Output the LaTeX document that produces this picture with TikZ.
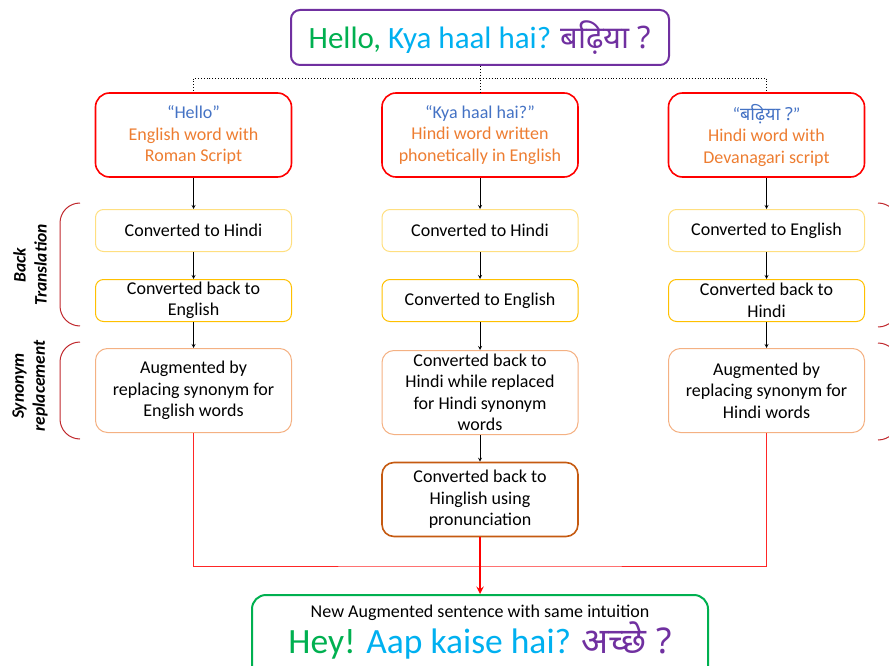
\documentclass[tikz,border=0pt]{standalone}
\usepackage{fontspec}
\setmainfont{Carlito}
\newfontfamily\deva[Script=Devanagari]{Noto Sans}
\usetikzlibrary{shapes.geometric, arrows, positioning}
\definecolor{hgreen}{HTML}{00B050}
\definecolor{hcyan}{HTML}{00B0F0}
\definecolor{hpurple}{HTML}{7030A0}
\definecolor{qblue}{HTML}{4472C4}
\definecolor{sorange}{HTML}{ED7D31}
\definecolor{lightgold}{HTML}{FFDF80}
\definecolor{gold}{HTML}{FFC000}
\definecolor{peach}{HTML}{F4B183}
\definecolor{brownish}{HTML}{C55A11}
\definecolor{bracered}{HTML}{C0282D}
\tikzstyle{headbox} = [rectangle, rounded corners=9pt, minimum width=378pt, minimum height=55pt, text centered, draw=hpurple, line width=2pt, font=\fontsize{31}{36}\selectfont]
\tikzstyle{srcbox} = [rectangle, rounded corners=14pt, minimum width=196pt, minimum height=84pt, align=center, draw=red, line width=1.6pt, text=sorange]
\tikzstyle{convbox} = [rectangle, rounded corners=8pt, minimum width=196pt, minimum height=42pt, inner ysep=2pt, align=center, draw=lightgold, line width=1pt]
\tikzstyle{backbox} = [convbox, draw=gold]
\tikzstyle{augbox} = [rectangle, rounded corners=12pt, minimum width=196pt, minimum height=84pt, inner ysep=2pt, align=center, draw=peach, line width=1pt]
\tikzstyle{hingbox} = [rectangle, rounded corners=12pt, minimum width=196pt, minimum height=74pt, align=center, draw=brownish, line width=1.6pt]
\tikzstyle{outbox} = [rectangle, rounded corners=14pt, minimum width=456pt, inner ysep=10pt, align=center, draw=hgreen, line width=2pt]
\tikzstyle{sidelabel} = [rotate=90, align=center, font=\fontsize{17.5}{21}\selectfont\bfseries\itshape]
\tikzstyle{arrow} = [->,>=stealth, line width=0.8pt]
\tikzstyle{mainarrow} = [->,>=stealth, line width=2.2pt, draw=red]
\tikzstyle{joinline} = [draw=red!85, line width=1pt]
\tikzstyle{splitline} = [dotted, line width=0.9pt]
\tikzstyle{brace} = [draw=bracered, line width=1pt, rounded corners=20pt]

\begin{document}
\begin{tikzpicture}[x=1pt, y=-1pt, node distance=70pt, every node/.style={font=\fontsize{18}{21.5}\selectfont}]

\useasboundingbox (0,0) rectangle (889,666);
\clip (0,0) rectangle (889,666);

\node (head) [headbox] at (480,37.5) {\textcolor{hgreen}{Hello,} \textcolor{hcyan}{Kya haal hai?} \textcolor{hpurple}{\deva बढ़िया ?}};

\node (src2) [srcbox, below of=head, yshift=-27.5pt] {\textcolor{qblue}{“Kya haal hai?”}\\Hindi word written\\phonetically in English};
\node (src1) [srcbox, left of=src2, xshift=-216.5pt] {\textcolor{qblue}{“Hello”}\\English word with\\Roman Script};
\node (src3) [srcbox, right of=src2, xshift=216.5pt] {\textcolor{qblue}{“{\deva बढ़िया ?}”}\\Hindi word with\\Devanagari script};

\node (conv1) [convbox, below of=src1, yshift=-25.5pt] {Converted to Hindi};
\node (back1) [backbox, below of=conv1] {Converted back to\\English};
\node (aug1) [augbox, below of=back1, yshift=-20pt] {Augmented by\\replacing synonym for\\English words};

\node (conv2) [convbox, below of=src2, yshift=-25.5pt] {Converted to Hindi};
\node (eng2) [backbox, below of=conv2] {Converted to English};
\node (aug2) [augbox, below of=eng2, yshift=-22pt] {Converted back to\\Hindi while replaced\\for Hindi synonym\\words};
\node (hing) [hingbox, below of=aug2, yshift=-37pt] {Converted back to\\Hinglish using\\pronunciation};

\node (conv3) [convbox, below of=src3, yshift=-25.5pt] {Converted to English};
\node (back3) [backbox, below of=conv3] {Converted back to\\Hindi};
\node (aug3) [augbox, below of=back3, yshift=-20pt] {Augmented by\\replacing synonym for\\Hindi words};

\node (out) [outbox, anchor=north] at (480,594) {New Augmented sentence with same intuition\\{\fontsize{35.5}{40}\selectfont\textcolor{hgreen}{Hey!} \textcolor{hcyan}{Aap kaise hai?} \textcolor{hpurple}{\deva अच्छे ?}}\rule[-30pt]{0pt}{0pt}};

\node (bt) [sidelabel] at (30,265) {Back\\Translation};
\node (sr) [sidelabel] at (30,386) {Synonym\\replacement};

\coordinate (split) at (480,78);
\coordinate (merge) at (480,566);

\draw [splitline] (head.south) -- (src2.north);
\draw [splitline] (split) -| (src1.north);
\draw [splitline] (split) -| (src3.north);

\draw [arrow] (src1) -- (conv1);
\draw [arrow] (conv1) -- (back1);
\draw [arrow] (back1) -- (aug1);
\draw [arrow] (src2) -- (conv2);
\draw [arrow] (conv2) -- (eng2);
\draw [arrow] (eng2) -- (aug2);
\draw [arrow] (aug2) -- (hing);
\draw [arrow] (src3) -- (conv3);
\draw [arrow] (conv3) -- (back3);
\draw [arrow] (back3) -- (aug3);

\draw [joinline] (aug1.south) |- (merge) -| (aug3.south);
\draw [mainarrow] (hing) -- (out);

\draw [brace] (80,203) -- (60,203) -- (60,326) -- (80,326);
\draw [brace] (80,342) -- (60,342) -- (60,439) -- (80,439);
\draw [brace] (878,203) -- (898,203) -- (898,327) -- (878,327);
\draw [brace] (878,343) -- (898,343) -- (898,440) -- (878,440);

\end{tikzpicture}
\end{document}
